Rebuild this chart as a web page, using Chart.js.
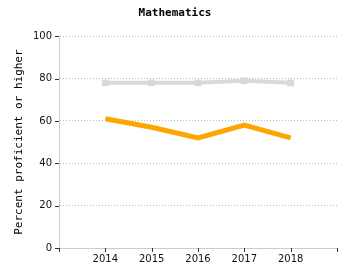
<!DOCTYPE html>
<html><head><meta charset="utf-8">
<script src="https://cdn.jsdelivr.net/npm/chart.js@4/dist/chart.umd.min.js"></script>
<style>html,body{margin:0;padding:0;background:#fff}#wrap{width:350px;height:280px}</style>
</head><body><div id="wrap"><canvas id="c" width="350" height="280"></canvas></div>
<script>
const years = ['2014', '2015', '2016', '2017', '2018'];
const stateValues = [78, 78, 78, 79, 78];
const schoolValues = [61, 57, 52, 58, 52];
const yTicks = [0, 20, 40, 60, 80, 100];
const titleText = 'Mathematics';
const yTitle = 'Percent proficient or higher';

const labels = [''].concat(years, ['']);
const pad = a => [null].concat(a, [null]);

const tickMarks = {
  id: 'tickMarks',
  afterDraw(chart) {
    const ctx = chart.ctx, x = chart.scales.x, y = chart.scales.y;
    ctx.save();
    ctx.strokeStyle = '#333';
    ctx.lineWidth = 1;
    ctx.beginPath();
    y.ticks.forEach((t, i) => {
      const py = Math.round(y.getPixelForTick(i)) + 0.5;
      ctx.moveTo(x.left - 4, py); ctx.lineTo(x.left, py);
    });
    x.ticks.forEach((t, i) => {
      const px = Math.round(x.getPixelForTick(i)) + 0.5;
      ctx.moveTo(px, y.bottom); ctx.lineTo(px, y.bottom + 4);
    });
    ctx.stroke();
    ctx.restore();
  }
};

new Chart(document.getElementById('c'), {
  type: 'line',
  data: {
    labels: labels,
    datasets: [
      { data: pad(stateValues), borderColor: '#d9d9d9', backgroundColor: '#d9d9d9', borderWidth: 4, pointRadius: 2, pointStyle: 'rect', tension: 0 },
      { data: pad(schoolValues), borderColor: '#ffa500', backgroundColor: '#ffa500', borderWidth: 5, pointRadius: 0, tension: 0 }
    ]
  },
  options: {
    responsive: false,
    animation: false,
    layout: { padding: { left: 13, right: 13, top: 0, bottom: 10 } },
    plugins: {
      legend: { display: false },
      tooltip: { enabled: false },
      title: { display: true, text: titleText, color: '#000', font: { family: 'DejaVu Sans Mono', size: 11, weight: 'bold' }, padding: { top: 7, bottom: 16 } }
    },
    scales: {
      x: {
        offset: false,
        grid: { display: false, drawTicks: false },
        border: { color: '#cccccc', width: 1 },
        ticks: { color: '#111', font: { family: 'DejaVu Sans', size: 10 }, padding: 5, maxRotation: 0, autoSkip: false }
      },
      y: {
        min: 0, max: 100,
        afterBuildTicks: s => { s.ticks = yTicks.map(v => ({ value: v })); },
        afterFit: s => { s.width = 46; },
        grid: { color: '#bbbbbb', drawTicks: false, lineWidth: 1 },
        border: { color: '#cccccc', width: 1, dash: [1, 2] },
        ticks: { color: '#111', font: { family: 'DejaVu Sans', size: 10 }, padding: 7 },
        title: { display: true, text: yTitle, color: '#000', font: { family: 'DejaVu Sans Mono', size: 11 }, padding: { top: 0, bottom: 0 } }
      }
    }
  },
  plugins: [tickMarks]
});
</script></body></html>
